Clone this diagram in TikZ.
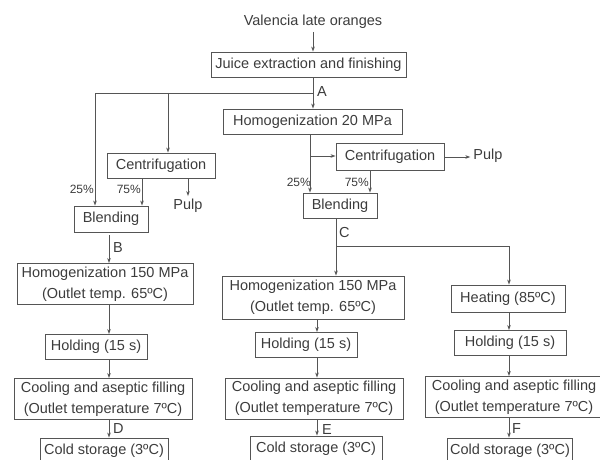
\documentclass[tikz,border=0pt]{standalone}
\usepackage{fontspec}
\setmainfont{Liberation Sans}
\usetikzlibrary{arrows.meta}
\definecolor{ink}{HTML}{3C3C3C}
\definecolor{rule}{HTML}{555555}
\newcommand{\boxFont}{\fontsize{14.5}{21}\selectfont}
\newcommand{\pctFont}{\fontsize{12}{14}\selectfont}

\begin{document}
\begin{tikzpicture}[x=1pt, y=-1pt]
  \tikzset{
    stage/.style={draw=rule, line width=0.9pt, text=ink, font=\boxFont,
      align=center, inner xsep=3pt, inner ysep=2pt, minimum height=25pt},
    twoline/.style={stage, minimum height=41pt},
    plain/.style={text=ink, font=\boxFont, inner sep=3pt},
    pct/.style={text=ink, font=\pctFont, inner sep=0pt, anchor=east},
    tag/.style={text=ink, font=\boxFont, inner sep=0pt, anchor=west},
    flow/.style={draw=rule, line width=0.9pt, -{Stealth[length=5pt,width=3.6pt]}}
  }
  \useasboundingbox (0,0) rectangle (600,460);
  \clip (0,0) rectangle (600,460);

  \node[plain] (oranges) at (313,22) {Valencia late oranges};
  \node[stage, minimum width=195pt] (juice) at (308.5,64.5) {Juice extraction and finishing};
  \node[stage, minimum width=179pt] (homog20) at (312.5,121.5) {Homogenization 20 MPa};

  \node[stage, minimum width=108pt] (centL) at (161,165.5) {Centrifugation};
  \node[plain] (pulpL) at (188,206) {Pulp};
  \node[stage, minimum width=74pt, minimum height=26pt] (blendL) at (111,219) {Blending};
  \node[twoline, minimum width=176pt] (homogL) at (105,284) {Homogenization 150 MPa\\(Outlet temp. 65ºC)};
  \node[stage, minimum width=102pt] (holdL) at (96,347) {Holding (15 s)};
  \node[twoline, minimum width=178pt] (coolL) at (103,399) {Cooling and aseptic filling\\(Outlet temperature 7ºC)};
  \node[stage, minimum width=128pt] (coldL) at (104,450.5) {Cold storage (3ºC)};

  \node[stage, minimum width=108pt, minimum height=27pt] (centM) at (390,157) {Centrifugation};
  \node[plain] (pulpR) at (488,156) {Pulp};
  \node[stage, minimum width=74pt] (blendM) at (340,205.5) {Blending};
  \node[twoline, minimum width=182pt, minimum height=43pt] (homogM) at (313,297.5) {Homogenization 150 MPa\\(Outlet temp. 65ºC)};
  \node[stage, minimum width=102pt] (holdM) at (306,345) {Holding (15 s)};
  \node[twoline, minimum width=178pt] (coolM) at (314,398.5) {Cooling and aseptic filling\\(Outlet temperature 7ºC)};
  \node[stage, minimum width=132pt] (coldM) at (316,448.5) {Cold storage (3ºC)};

  \node[stage, minimum width=114pt, minimum height=27pt] (heat) at (508,298.5) {Heating (85ºC)};
  \node[stage, minimum width=112pt] (holdR) at (510,343) {Holding (15 s)};
  \node[twoline, minimum width=178pt] (coolR) at (514,397) {Cooling and aseptic filling\\(Outlet temperature 7ºC)};
  \node[stage, minimum width=122pt] (coldR) at (510,450.5) {Cold storage (3ºC)};

  \node[pct] (pctL1) at (94,189) {25\%};
  \node[pct] (pctL2) at (141,189) {75\%};
  \node[pct] (pctM1) at (311,182) {25\%};
  \node[pct] (pctM2) at (369,182) {75\%};

  \node[tag] (tagA) at (317,92) {A};
  \node[tag] (tagB) at (113,248) {B};
  \node[tag] (tagC) at (339,233) {C};
  \node[tag] (tagD) at (113,429) {D};
  \node[tag] (tagE) at (322,430) {E};
  \node[tag] (tagF) at (512,429) {F};

  \coordinate (axA) at (313,0);
  \coordinate (split) at (313,93);
  \coordinate (corner) at (95,93);
  \coordinate (tap) at (168,93);
  \coordinate (sideL) at (142,0);
  \coordinate (colL) at (109,0);
  \coordinate (fork) at (310,156);
  \coordinate (sideM) at (370,0);
  \coordinate (forkC) at (336,246);
  \coordinate (colM) at (317,0);
  \coordinate (colR) at (509,0);

  \draw[flow] (oranges.south -| axA) -- (juice.north -| axA);
  \draw[flow] (juice.south -| axA) -- (homog20.north -| axA);
  \draw[flow] (split) -- (corner) -- (corner |- blendL.north);
  \draw[flow] (tap) -- (tap |- centL.north);
  \draw[flow] (centL.south -| sideL) -- (blendL.north -| sideL);
  \draw[flow] (centL.south -| pulpL) -- (pulpL.north);
  \draw[flow, shorten <=3pt] (blendL.south -| colL) -- (homogL.north -| colL);
  \draw[flow] (homogL.south -| colL) -- (holdL.north -| colL);
  \draw[flow] (holdL.south -| colL) -- (coolL.north -| colL);
  \draw[flow] (coolL.south -| colL) -- (coldL.north -| colL);

  \draw[flow] (homog20.south -| fork) -- (blendM.north -| fork);
  \draw[flow] (fork) -- (fork -| centM.west);
  \draw[flow] (centM.east) -- (centM.east -| pulpR.west);
  \draw[flow] (centM.south -| sideM) -- (blendM.north -| sideM);
  \draw[flow] (blendM.south -| forkC) -- (homogM.north -| forkC);
  \draw[flow] (forkC) -| (heat.north -| colR);
  \draw[flow] (homogM.south -| colM) -- (holdM.north -| colM);
  \draw[flow] (holdM.south -| colM) -- (coolM.north -| colM);
  \draw[flow] (coolM.south -| colM) -- (coldM.north -| colM);

  \draw[flow] (heat.south -| colR) -- (holdR.north -| colR);
  \draw[flow] (holdR.south -| colR) -- (coolR.north -| colR);
  \draw[flow] (coolR.south -| colR) -- (coldR.north -| colR);
\end{tikzpicture}
\end{document}
